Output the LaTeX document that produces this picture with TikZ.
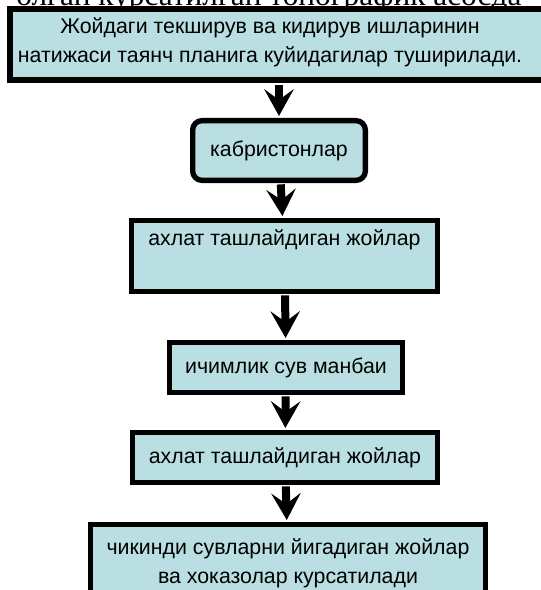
\documentclass[tikz,border=0pt]{standalone}
\usepackage{fontspec}
\setmainfont{Liberation Sans}
\newfontfamily\serifcut{Liberation Serif}
\usetikzlibrary{arrows.meta}
\definecolor{boxfill}{RGB}{185,223,226}
\begin{document}
\begin{tikzpicture}[x=0.75pt,y=-0.75pt,
  txt/.style={align=center, inner sep=0pt, font=\fontsize{16}{21.75}\selectfont},
  box/.style={txt, draw=black, line width=4pt, fill=boxfill},
  flow/.style={line width=6pt, -{Stealth[length=20pt,width=22pt,inset=8pt]}, shorten >=1.5pt, shorten <=1pt}]
\useasboundingbox (0,0) rectangle (541,590);
\clip (0,0) rectangle (541,590);
\node[anchor=base west, inner sep=0pt, font=\serifcut\fontsize{23.5}{26}\selectfont] (top) at (16,5) {олган курсатилган топографик асосда};
\node[box, line width=4.5pt, minimum width=405.5pt, minimum height=53.8pt] (b1) at (280,44.5) {};
\node[txt] (b1text) at (270,42.5)
  {Жойдаги текширув ва кидирув ишларинин\\натижаси таянч планига куйидагилар туширилади.};
\node[box, rounded corners=7pt, minimum width=129.5pt, minimum height=44.8pt] (b2) at (279,150.5) {кабристонлар};
\node[box, minimum width=229.3pt, minimum height=53pt] (b3) at (284.5,256) {ахлат ташлайдиган жойлар\\\strut};
\node[box, minimum width=174.5pt, minimum height=37.3pt] (b4) at (286,367.5) {ичимлик сув манбаи};
\node[box, minimum width=228.5pt, minimum height=37.3pt] (b5) at (285,457.5) {ахлат ташлайдиган жойлар};
\node[box, minimum width=296pt, minimum height=57.5pt] (b6) at (288,563)
  {чикинди сувларни йигадиган жойлар\\ва хоказолар курсатилади};
\draw[flow] (b1.south -| b2) -- (b2);
\draw[flow] (b2) -- (b3);
\draw[flow] (b3) -- (b4);
\draw[flow] (b4) -- (b5);
\draw[flow] (b5) -- (b6);
\end{tikzpicture}
\end{document}
